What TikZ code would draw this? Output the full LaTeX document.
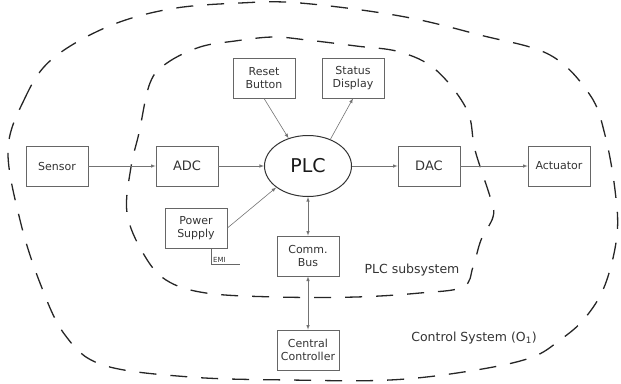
\documentclass[tikz,border=0pt]{standalone}
\usepackage{fontspec}
\setmainfont{DejaVu Sans}
\usetikzlibrary{arrows}
\usetikzlibrary{positioning}
\usetikzlibrary{shapes.geometric}

\tikzset{
  blk/.style={draw=black!60, line width=0.8pt, minimum width=62pt, minimum height=40pt,
    inner sep=1pt, align=center, text=black!80, font=\fontsize{11}{13}\selectfont},
  bigblk/.style={blk, font=\fontsize{13}{15}\selectfont},
  sig/.style={draw=black!55, line width=0.6pt, -latex},
  bisig/.style={draw=black!55, line width=0.6pt, latex-latex},
  zone/.style={draw=black!85, line width=1.3pt, dash pattern=on 17pt off 14pt},
  tag/.style={text=black!80, font=\fontsize{12.5}{14}\selectfont},
}

\begin{document}
\begin{tikzpicture}[x=1pt, y=-1pt]
  \useasboundingbox (0,0) rectangle (621,383);

  % control system boundary
  \draw[zone] plot[smooth cycle, tension=0.6] coordinates {
    (8,150) (24,100) (51,60) (107,27) (170,9) (240,3) (300,3) (400,16)
    (480,35) (550,55) (590,95) (605,135) (615,190) (617,235) (605,285)
    (585,318) (560,340) (530,358) (470,371) (390,380) (290,380) (190,377)
    (103,365) (65,335) (40,283) (20,220)};

  % PLC subsystem boundary
  \draw[zone] plot[smooth cycle, tension=0.6] coordinates {
    (150,83) (167,63) (200,47) (235,41) (273,37) (307,40) (356,46) (400,52) (436,70)
    (467,110) (475,150) (491,200) (493,217) (481,240) (473,267) (463,287)
    (420,293) (356,297) (277,297) (206,293) (166,280) (143,253) (127,213)
    (131,167) (139,133)};

  % blocks
  \foreach \name/\x/\y/\txt in {sensor/57/166/Sensor, act/559/166/Actuator,
      reset/264/78/{Reset\\Button}, status/353/78/{Status\\Display},
      ps/196/228/{Power\\Supply}, bus/308/256/{Comm.\\Bus}, central/308/350/{Central\\Controller}} {
    \node[blk] (\name) at (\x,\y) {\txt};
  }
  \node[bigblk] (adc) at (187,166) {ADC};
  \node[bigblk] (dac) at (429,166) {DAC};

  \node[ellipse, draw=black!80, line width=1pt, minimum width=87pt, minimum height=61pt,
    inner sep=0pt, text=black!90, font=\fontsize{19}{22}\selectfont] (plc) at (308,166) {PLC};

  % signals
  \draw[sig] (sensor) -- (adc);
  \draw[sig] (adc) -- (plc);
  \draw[sig] (plc) -- (dac);
  \draw[sig] (dac) -- (act);
  \draw[sig] (reset.south) -- (plc.125);
  \draw[sig] (plc.50) -- (status.south);
  \draw[sig] (ps.east) -- (plc.214);
  \draw[bisig] (plc.south) -- (bus.north);
  \draw[bisig] (bus.south) -- (central.north);

  % EMI
  \coordinate (emiend) at (240,264);
  \draw[draw=black!60, line width=0.6pt] ([xshift=-16pt]ps.south east) |- (emiend);
  \node[anchor=south west, inner sep=1pt, text=black!80, font=\fontsize{7}{8}\selectfont]
    (emi) at (212,264) {EMI};

  % labels
  \node[tag] (plcsub) at (412,270) {PLC subsystem};
  \node[tag] (ctrlsys) at (474,338) {Control System (O\textsubscript{1})};
\end{tikzpicture}
\end{document}
